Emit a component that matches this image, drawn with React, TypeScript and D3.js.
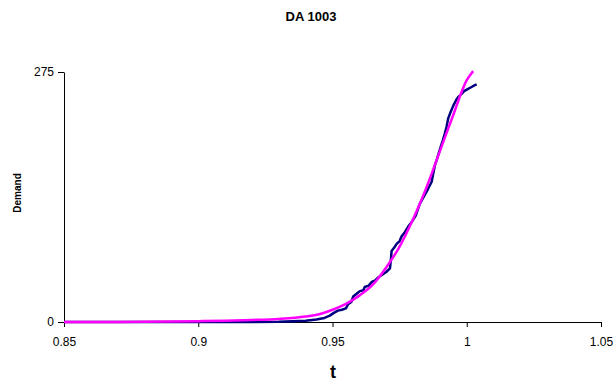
import { useEffect, useRef } from "react";
import * as d3 from "d3";

// observed demand (step-like cumulative curve)
const demandT = [
	0.85, 0.9, 0.92, 0.93, 0.935, 0.94, 0.944, 0.947, 0.949, 0.9505, 0.952,
	0.9535, 0.955, 0.9558, 0.957, 0.9577, 0.959, 0.9602, 0.9615, 0.962, 0.9635,
	0.9646, 0.9658, 0.967, 0.9685, 0.97, 0.9714, 0.9718, 0.972, 0.973, 0.9739,
	0.975, 0.9757, 0.977, 0.9782, 0.9795, 0.981, 0.9825, 0.984, 0.9855, 0.9869,
	0.9875, 0.9881, 0.989, 0.99, 0.991, 0.9918, 0.9925, 0.9931, 0.994, 0.995,
	0.9962, 0.997, 0.9981, 0.999, 1.0005, 1.0018, 1.003, 1.0037,
];
const demandValues = [
	0, 0, 0, 0.3, 0.8, 1.5, 2.8, 4.5, 7, 10, 12.5, 13.5, 15, 19.5, 22, 28, 31,
	34, 35, 38.5, 40, 44, 45.5, 49, 52, 55, 59, 70, 78, 82, 86, 89, 94, 99, 105,
	110, 117, 130, 138, 146, 154, 163, 172, 180, 190, 199, 207, 215, 224, 231,
	238, 245, 248, 251, 254, 256.5, 258.5, 260.5, 261.5,
];

// fitted curve
const fitT = [
	0.85, 0.87, 0.89, 0.9, 0.91, 0.92, 0.93, 0.94, 0.945, 0.95, 0.955, 0.96,
	0.965, 0.97, 0.975, 0.98, 0.985, 0.99, 0.995, 1.0, 1.0024,
];
const fitValues = [
	0, 0.1, 0.5, 0.9, 1.4, 2.2, 3.4, 6, 8.5, 13.5, 20, 29, 41, 60, 83, 113, 148,
	188, 228, 266, 276,
];

const xTicks = [0.85, 0.9, 0.95, 1.0, 1.05];
const yTicks = [0, 275];

const App = () => {
	const svgRef = useRef<SVGSVGElement>(null);

	useEffect(() => {
		if (!svgRef.current) return;
		const svg = d3.select(svgRef.current);
		svg.selectAll("*").remove();

		const font = "'Liberation Sans', Arial, sans-serif";
		const x = d3.scaleLinear().domain([0.85, 1.05]).range([64, 601]);
		const y = d3.scaleLinear().domain([0, 275]).range([322, 72]);

		// title and axis labels
		svg.append("text")
			.attr("x", 311)
			.attr("y", 21)
			.attr("text-anchor", "middle")
			.style("font", `bold 13px ${font}`)
			.text("DA 1003");

		svg.append("text")
			.attr("transform", "translate(21,193) rotate(-90)")
			.attr("text-anchor", "middle")
			.style("font", `bold 10px ${font}`)
			.text("Demand");

		svg.append("text")
			.attr("x", 333)
			.attr("y", 378)
			.attr("text-anchor", "middle")
			.style("font", `bold 18px ${font}`)
			.text("t");

		// axes
		const xAxis = svg
			.append("g")
			.attr("transform", `translate(0,${y(0)})`)
			.call(
				d3
					.axisBottom(x)
					.tickValues(xTicks)
					.tickFormat((d) => String(+d))
					.tickSizeInner(5)
					.tickSizeOuter(0)
					.tickPadding(10)
			);
		xAxis.selectAll("text").style("font", `12px ${font}`).attr("fill", "#000");

		const yAxis = svg
			.append("g")
			.attr("transform", `translate(${x(0.85)},0)`)
			.call(
				d3
					.axisLeft(y)
					.tickValues(yTicks)
					.tickFormat((d) => String(d))
					.tickSizeInner(6)
					.tickSizeOuter(0)
					.tickPadding(4)
			);
		yAxis.selectAll("text").style("font", `12px ${font}`).attr("fill", "#000");

		svg.selectAll(".domain, .tick line").attr("stroke", "#000");

		// series
		const demand = demandT.map((t, i) => [t, demandValues[i]] as [number, number]);
		const fit = fitT.map((t, i) => [t, fitValues[i]] as [number, number]);

		const line = d3
			.line<[number, number]>()
			.x((d) => x(d[0]))
			.y((d) => y(d[1]));

		svg.append("path")
			.datum(demand)
			.attr("d", line)
			.attr("fill", "none")
			.attr("stroke", "#000080")
			.attr("stroke-width", 2.5)
			.attr("stroke-linejoin", "round");

		svg.append("path")
			.datum(fit)
			.attr("d", line.curve(d3.curveMonotoneX))
			.attr("fill", "none")
			.attr("stroke", "#FF00FF")
			.attr("stroke-width", 2.5);
	}, []);

	return (
		<svg
			ref={svgRef}
			width={615}
			height={386}
			style={{ position: "absolute", left: 0, top: 0, background: "#fff" }}
		/>
	);
};

export default App;
